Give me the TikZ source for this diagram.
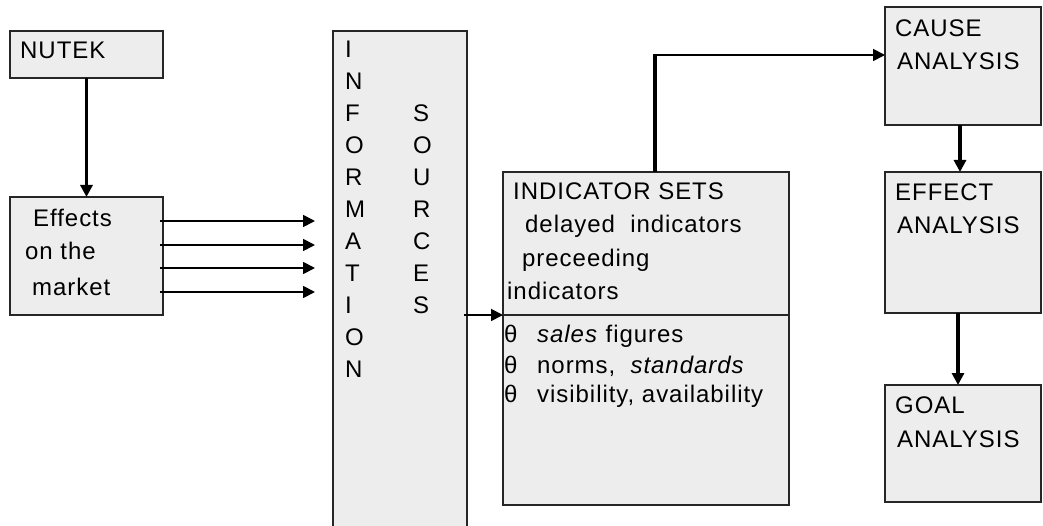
\documentclass[tikz,border=0pt]{standalone}
\usepackage{fontspec}
\setmainfont[LetterSpace=4]{Liberation Sans}
\usetikzlibrary{arrows.meta}
\begin{document}
\begin{tikzpicture}[x=1pt,y=-1pt,
  box/.style={draw=black!85, line width=1.8pt, fill=black!7, inner sep=0pt, outer sep=0pt, anchor=north west},
  txt/.style={anchor=base west, inner sep=0pt, font=\fontsize{24}{24}\selectfont},
  tip/.style={-{Triangle[length=12pt,width=12pt]}},
  heavy/.style={tip, line width=3.5pt},
  light/.style={tip, line width=1.8pt}]
\useasboundingbox (0,0) rectangle (1043,526);

% boxes
\node[box, minimum width=153pt, minimum height=47pt]  (nutek)   at (10,31)  {};
\node[box, minimum width=153pt, minimum height=118pt] (effects) at (10,197) {};
\node[box, minimum width=134pt, minimum height=505pt] (info)    at (333,31) {};
\node[box, minimum width=286pt, minimum height=333pt] (ind)     at (503,172) {};
\node[box, minimum width=156pt, minimum height=118pt] (cause)   at (885,7)   {};
\node[box, minimum width=156pt, minimum height=141pt] (effect)  at (885,172) {};
\node[box, minimum width=156pt, minimum height=117pt] (goal)    at (885,385) {};

% divider inside the indicator box
\draw[draw=black!85, line width=1.8pt] (ind.west |- 0,315) -- (ind.east |- 0,315);

% texts
\node[txt] (tnutek) at (20,59) {NUTEK};
\node[txt] (te1) at (33,227) {Effects};
\node[txt] (te2) at (25,260) {on the};
\node[txt] (te3) at (32,295) {market};

\foreach \c [count=\i from 0] in {I,N,F,O,R,M,A,T,I,O,N}
  \node[txt] (tinfo\i) at (345,58+31.9*\i) {\c};
\foreach \c [count=\i from 2] in {S,O,U,R,C,E,S}
  \node[txt] (tsrc\i) at (413,58+31.9*\i) {\c};

\node[txt] (ti1) at (513,200) {INDICATOR SETS};
\node[txt] (ti2) at (525,233) {delayed\ \ indicators};
\node[txt] (ti3) at (522,267) {preceeding};
\node[txt] (ti4) at (507,300) {indicators};
\node[txt] (tb1) at (504,342) {θ};
\node[txt] (tb2) at (504,373) {θ};
\node[txt] (tb3) at (504,402) {θ};
\node[txt] (tl1) at (537,342) {\textit{sales} figures};
\node[txt] (tl2) at (537,373) {norms,\ \ \textit{standards}};
\node[txt] (tl3) at (537,402) {visibility, availability};

\node[txt] (tc1) at (895,37)  {CAUSE};
\node[txt] (tc2) at (897,70)  {ANALYSIS};
\node[txt] (tf1) at (895,201) {EFFECT};
\node[txt] (tf2) at (897,234) {ANALYSIS};
\node[txt] (tg1) at (895,413) {GOAL};
\node[txt] (tg2) at (897,447) {ANALYSIS};

% connectors
\draw[heavy] (nutek.south) -- (effects.north);
\foreach \y in {221,245,268,292}
  \draw[light, shorten >=18pt] ([xshift=-3pt]effects.east |- 0,\y) -- (info.west |- 0,\y);
\draw[light] ([xshift=-3pt]info.east |- 0,315) -- (ind.west |- 0,315);
\coordinate (bend) at (655,55);
\draw[line width=3.5pt] (ind.north -| bend) -- ([yshift=-0.9pt]bend);
\draw[light] ([xshift=-1.75pt]bend) -- (cause.west |- bend);
\draw[heavy] (cause.south -| 960,0) -- (effect.north -| 960,0);
\draw[heavy] (effect.south -| 958,0) -- (goal.north -| 958,0);
\end{tikzpicture}
\end{document}
